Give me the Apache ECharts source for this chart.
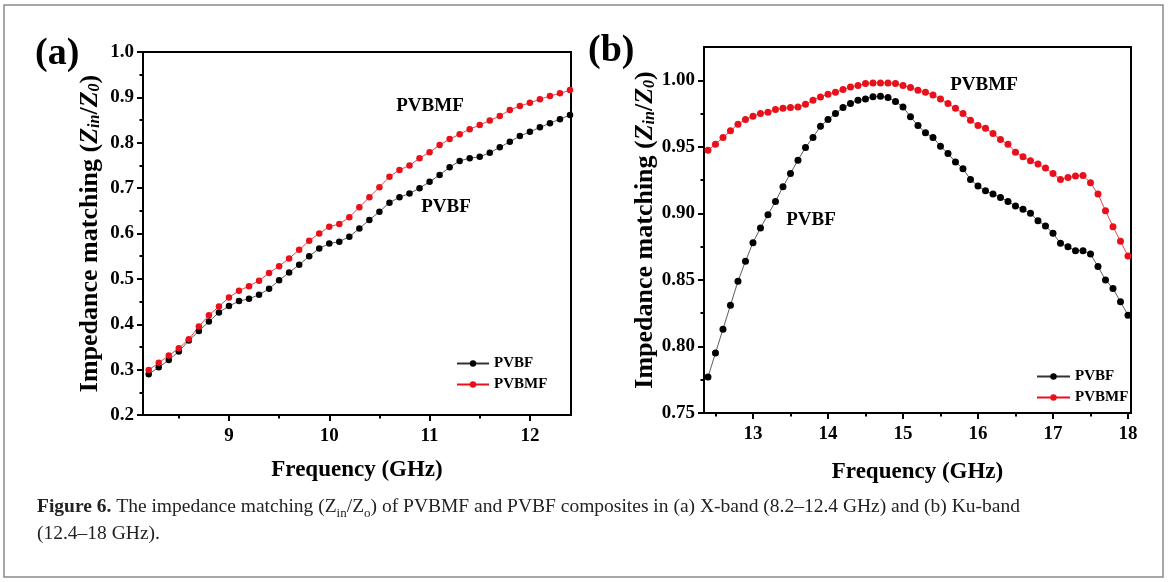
<!DOCTYPE html>
<html>
<head>
<meta charset="utf-8">
<script src="https://cdn.jsdelivr.net/npm/echarts@6/dist/echarts.min.js"></script>
<style>
html,body{margin:0;padding:0;background:#fff;}
#main{width:1169px;height:582px;}
</style>
</head>
<body>
<div id="main"></div>
<script>
// (a) X-band
var freqA = [8.2,8.3,8.4,8.5,8.6,8.7,8.8,8.9,9.0,9.1,9.2,9.3,9.4,9.5,9.6,9.7,9.8,9.9,10.0,10.1,10.2,10.3,10.4,10.5,10.6,10.7,10.8,10.9,11.0,11.1,11.2,11.3,11.4,11.5,11.6,11.7,11.8,11.9,12.0,12.1,12.2,12.3,12.4];
var pvbfA = [0.290,0.305,0.321,0.340,0.364,0.385,0.406,0.426,0.440,0.451,0.456,0.465,0.478,0.497,0.514,0.531,0.550,0.567,0.578,0.582,0.593,0.611,0.630,0.648,0.668,0.680,0.688,0.700,0.714,0.729,0.746,0.760,0.766,0.769,0.778,0.790,0.802,0.815,0.824,0.834,0.843,0.852,0.861];
var pvbmfA = [0.299,0.315,0.331,0.347,0.367,0.395,0.420,0.439,0.459,0.474,0.484,0.496,0.513,0.528,0.545,0.564,0.584,0.600,0.615,0.621,0.636,0.658,0.680,0.702,0.725,0.740,0.750,0.766,0.779,0.795,0.808,0.819,0.830,0.839,0.849,0.859,0.872,0.881,0.888,0.896,0.903,0.909,0.916];
// (b) Ku-band
var freqB = [12.4,12.5,12.6,12.7,12.8,12.9,13.0,13.1,13.2,13.3,13.4,13.5,13.6,13.7,13.8,13.9,14.0,14.1,14.2,14.3,14.4,14.5,14.6,14.7,14.8,14.9,15.0,15.1,15.2,15.3,15.4,15.5,15.6,15.7,15.8,15.9,16.0,16.1,16.2,16.3,16.4,16.5,16.6,16.7,16.8,16.9,17.0,17.1,17.2,17.3,17.4,17.5,17.6,17.7,17.8,17.9,18.0];
var pvbfB = [0.777,0.795,0.813,0.831,0.849,0.864,0.878,0.889,0.899,0.909,0.920,0.930,0.940,0.9495,0.957,0.9655,0.9705,0.975,0.9795,0.9825,0.985,0.986,0.9877,0.988,0.987,0.984,0.980,0.9725,0.966,0.9605,0.957,0.9505,0.945,0.9385,0.9335,0.9255,0.9205,0.917,0.9145,0.912,0.909,0.9055,0.903,0.900,0.8945,0.8905,0.885,0.8775,0.875,0.872,0.872,0.8695,0.860,0.850,0.8435,0.8335,0.8235];
var pvbmfB = [0.9475,0.952,0.957,0.962,0.967,0.9705,0.973,0.975,0.976,0.978,0.979,0.9795,0.980,0.982,0.985,0.9875,0.9895,0.991,0.993,0.995,0.996,0.9975,0.998,0.998,0.998,0.9975,0.996,0.9945,0.9925,0.991,0.989,0.986,0.9825,0.979,0.975,0.970,0.966,0.964,0.960,0.9555,0.952,0.946,0.9425,0.9395,0.937,0.934,0.930,0.9255,0.927,0.928,0.9285,0.923,0.9145,0.902,0.890,0.879,0.868];

// tick values
var xTicksA = [9,10,11,12];
var xMinorA = [8.5,9.5,10.5,11.5];
var yTicksA = [0.2,0.3,0.4,0.5,0.6,0.7,0.8,0.9,1.0];
var yMinorA = [0.25,0.35,0.45,0.55,0.65,0.75,0.85,0.95];
var xTicksB = [13,14,15,16,17,18];
var xMinorB = [12.5,13.5,14.5,15.5,16.5,17.5];
var yTicksB = [0.75,0.80,0.85,0.90,0.95,1.00];
var yMinorB = [0.775,0.825,0.875,0.925,0.975,1.0];

var serif = "'Liberation Serif','DejaVu Serif',serif";
var RED = '#e8101a';

function pairs(xs, ys){
	var out = [];
	for(var i=0;i<xs.length;i++){ out.push([xs[i], ys[i]]); }
	return out;
}

var yName = '{t|Impedance matching (}{z|Z}{s|in}{t|/}{z|Z}{s|0}{t|)}';
var yNameRich = {
	t:{fontFamily:serif,fontWeight:'bold',fontSize:26,color:'#000'},
	z:{fontFamily:serif,fontWeight:'bold',fontStyle:'italic',fontSize:26,color:'#000'},
	s:{fontFamily:serif,fontWeight:'bold',fontStyle:'italic',fontSize:16,color:'#000',verticalAlign:'bottom',padding:[9,0,0,0]}
};

function mainX(grid,min,max,ticks,gap){
	return {
		type:'value',gridIndex:grid,min:min,max:max,position:'bottom',
		name:'Frequency (GHz)',nameLocation:'middle',nameGap:gap,
		nameTextStyle:{fontFamily:serif,fontWeight:'bold',fontSize:23,color:'#000'},
		axisLine:{show:true,lineStyle:{color:'#000',width:2}},
		axisTick:{show:true,length:6,lineStyle:{color:'#000',width:2},customValues:ticks},
		axisLabel:{customValues:ticks,margin:12,fontFamily:serif,fontWeight:'bold',fontSize:19,color:'#000'},
		splitLine:{show:false}
	};
}
function minorX(grid,min,max,ticks){
	return {
		type:'value',gridIndex:grid,min:min,max:max,position:'bottom',
		axisLine:{show:false},
		axisTick:{show:true,length:3.5,lineStyle:{color:'#000',width:2},customValues:ticks},
		axisLabel:{show:false},splitLine:{show:false}
	};
}
function mainY(grid,min,max,ticks,gap,fmt){
	return {
		type:'value',gridIndex:grid,min:min,max:max,position:'left',
		name:yName,nameLocation:'middle',nameGap:gap,nameRotate:90,
		nameTextStyle:{rich:yNameRich},
		axisLine:{show:true,lineStyle:{color:'#000',width:2}},
		axisTick:{show:true,length:6,lineStyle:{color:'#000',width:2},customValues:ticks},
		axisLabel:{customValues:ticks,margin:9,fontFamily:serif,fontWeight:'bold',fontSize:19,color:'#000',
			formatter:function(v){return v.toFixed(fmt);}},
		splitLine:{show:false}
	};
}
function minorY(grid,min,max,ticks){
	return {
		type:'value',gridIndex:grid,min:min,max:max,position:'left',
		axisLine:{show:false},
		axisTick:{show:true,length:3.5,lineStyle:{color:'#000',width:2},customValues:ticks},
		axisLabel:{show:false},splitLine:{show:false}
	};
}
function lineSeries(name,color,lineColor,xi,yi,data,size){
	return {
		name:name,type:'line',xAxisIndex:xi,yAxisIndex:yi,data:data,
		symbol:'circle',symbolSize:size,showSymbol:true,
		itemStyle:{color:color},
		lineStyle:{color:lineColor,width:0.8},
		emphasis:{disabled:true},animation:false
	};
}

var legendText = {fontFamily:serif,fontWeight:'bold',fontSize:15,color:'#000'};

var option = {
	backgroundColor:'#fff',
	animation:false,
	grid:[
		{left:143,top:52,width:428,height:363,show:true,borderColor:'#000',borderWidth:2,backgroundColor:'transparent'},
		{left:704,top:47,width:427,height:366,show:true,borderColor:'#000',borderWidth:2,backgroundColor:'transparent'}
	],
	xAxis:[
		mainX(0,8.143,12.41,xTicksA,44), minorX(0,8.143,12.41,xMinorA),
		mainX(1,12.347,18.04,xTicksB,48), minorX(1,12.347,18.04,xMinorB)
	],
	yAxis:[
		mainY(0,0.2,1.0,yTicksA,40,1), minorY(0,0.2,1.0,yMinorA),
		mainY(1,0.75,1.025,yTicksB,44,2), minorY(1,0.75,1.025,yMinorB)
	],
	legend:[
		{orient:'vertical',left:451,top:351,itemWidth:32,itemHeight:8,itemGap:6,textStyle:legendText,
			data:['PVBF','PVBMF'],selectedMode:false},
		{orient:'vertical',left:1031,top:364,itemWidth:33,itemHeight:8,itemGap:6,textStyle:legendText,
			data:['PVBF','PVBMF'],selectedMode:false}
	],
	series:[
		lineSeries('PVBF','#000','#333',0,0,pairs(freqA,pvbfA),6.5),
		lineSeries('PVBMF',RED,RED,0,0,pairs(freqA,pvbmfA),6.5),
		lineSeries('PVBF','#000','#333',2,2,pairs(freqB,pvbfB),7),
		lineSeries('PVBMF',RED,RED,2,2,pairs(freqB,pvbmfB),7)
	],
	graphic:[
		// outer frame
		{type:'rect',shape:{x:4,y:5,width:1159,height:572},style:{fill:null,stroke:'#8a8a8a',lineWidth:1.5},silent:true},
		// panel tags
		{type:'text',left:35,top:35,style:{text:'(a)',font:'bold 38px '+serif,fill:'#000'}},
		{type:'text',left:588,top:32,style:{text:'(b)',font:'bold 38px '+serif,fill:'#000'}},
		// curve labels
		{type:'text',x:430,y:106,style:{text:'PVBMF',font:'bold 19px '+serif,fill:'#000',align:'center',verticalAlign:'middle'}},
		{type:'text',x:446,y:207,style:{text:'PVBF',font:'bold 19px '+serif,fill:'#000',align:'center',verticalAlign:'middle'}},
		{type:'text',x:811,y:220,style:{text:'PVBF',font:'bold 19px '+serif,fill:'#000',align:'center',verticalAlign:'middle'}},
		{type:'text',x:984,y:85,style:{text:'PVBMF',font:'bold 19px '+serif,fill:'#000',align:'center',verticalAlign:'middle'}},
		// caption
		{type:'text',left:37,top:493,style:{
			text:'{b|Figure 6.} The impedance matching (Z{s|in}/Z{s|o}) of PVBMF and PVBF composites in (a) X-band (8.2–12.4 GHz) and (b) Ku-band\n(12.4–18 GHz).',
			font:'19.5px '+serif,fill:'#222',lineHeight:27,
			rich:{b:{fontWeight:'bold',fontFamily:serif,fontSize:19.5,fill:'#222'},
				s:{fontFamily:serif,fontSize:13,fill:'#222',verticalAlign:'bottom',padding:[7,0,0,0]}}
		}}
	]
};

var myChart = echarts.init(document.getElementById('main'));
myChart.setOption(option);
</script>
</body>
</html>
